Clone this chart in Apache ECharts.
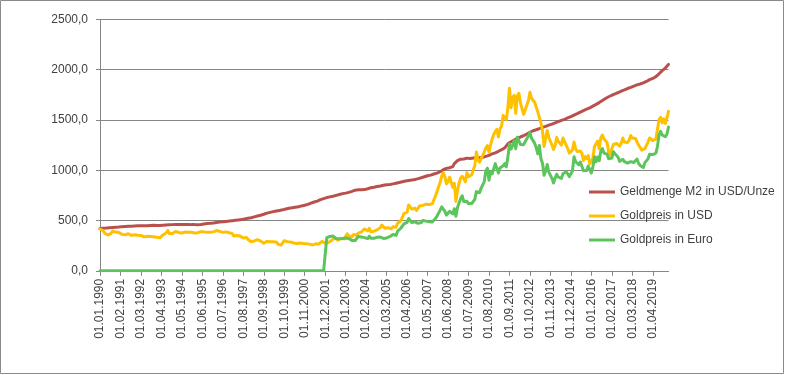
<!DOCTYPE html>
<html><head><meta charset="utf-8">
<script src="https://cdn.jsdelivr.net/npm/echarts@6/dist/echarts.min.js"></script>
<style>html,body{margin:0;padding:0;background:#fff}#c{width:785px;height:375px}</style>
</head><body><div id="c"></div><script>
// Category range: monthly, 01.01.1990 .. 01.02.2020
const startYear = 1990, endYear = 2020, endMonth = 2;
const categories = [];
for (let y = startYear; y <= endYear; y++) {
  for (let m = 1; m <= 12; m++) {
    if (y === endYear && m > endMonth) break;
    categories.push('01.' + (m < 10 ? '0' + m : m) + '.' + y);
  }
}

const seriesNames = ['Geldmenge M2 in USD/Unze', 'Goldpreis in USD', 'Goldpreis in Euro'];
const yTicks = [0, 500, 1000, 1500, 2000, 2500];

// Geldmenge M2 in USD/Unze
const m2 = [
  420,422,424,425,425,427,428,430,431,432,433,434, // 1990
  435,437,439,440,441,442,443,443,443,444,445,446, // 1991
  447,448,449,449,449,448,449,450,451,452,452,452, // 1992
  451,450,450,451,453,454,455,456,457,458,459,460, // 1993
  460,460,461,462,461,461,461,460,460,460,459,459, // 1994
  459,458,458,459,461,464,466,468,470,471,472,474, // 1995
  476,478,481,482,484,486,487,489,491,492,494,496, // 1996
  498,500,502,504,506,508,510,513,516,519,522,525, // 1997
  528,532,536,540,544,548,552,556,562,568,573,577, // 1998
  581,585,588,591,594,597,600,603,606,610,614,618, // 1999
  621,623,626,630,632,634,637,641,645,648,651,655, // 2000
  660,666,673,680,684,689,693,698,708,713,718,724, // 2001
  728,732,735,737,741,745,750,755,759,764,767,770, // 2002
  772,776,780,784,789,795,801,806,806,805,805,806, // 2003
  807,811,816,821,826,830,831,833,837,840,843,847, // 2004
  850,852,855,857,858,861,864,867,871,875,878,881, // 2005
  885,889,892,895,897,899,902,905,908,912,916,921, // 2006
  925,930,935,940,945,948,951,956,962,967,971,976, // 2007
  985,995,1005,1013,1018,1020,1024,1025,1035,1065,1080,1095, // 2008
  1105,1110,1115,1112,1118,1120,1118,1117,1120,1122,1125,1125, // 2009
  1124,1125,1128,1128,1132,1138,1142,1148,1155,1162,1168,1173, // 2010
  1180,1188,1195,1204,1212,1222,1238,1262,1275,1283,1292,1300, // 2011
  1310,1318,1324,1330,1336,1343,1352,1360,1368,1376,1385,1392, // 2012
  1396,1402,1408,1414,1420,1425,1430,1435,1441,1448,1453,1458, // 2013
  1465,1471,1478,1483,1490,1495,1500,1506,1512,1519,1525,1532, // 2014
  1540,1548,1555,1562,1570,1578,1586,1593,1600,1607,1614,1620, // 2015
  1628,1637,1645,1654,1664,1672,1682,1692,1702,1712,1720,1730, // 2016
  1738,1745,1751,1758,1765,1772,1778,1785,1792,1798,1805,1812, // 2017
  1818,1823,1830,1836,1843,1848,1852,1857,1862,1868,1875,1882, // 2018
  1890,1900,1905,1912,1920,1930,1942,1958,1972,1990,2003,2015, // 2019
  2030,2052 // 2020
];

// Goldpreis in USD
const goldUsd = [
  415,412,398,374,369,355,352,372,395,404,385,400, // 1990
  380,383,362,356,358,360,368,364,352,355,359,365, // 1991
  353,355,352,341,337,337,343,355,341,349,339,334, // 1992
  333,330,328,320,356,375,377,400,371,354,370,371, // 1993
  390,378,381,390,376,386,385,384,384,395,383,383, // 1994
  376,375,378,391,389,384,387,383,382,384,383,387, // 1995
  387,405,400,396,392,390,382,385,387,379,379,371, // 1996
  369,345,363,351,340,345,334,326,323,331,311,296, // 1997
  289,302,297,301,309,294,296,288,274,293,292,293, // 1998
  288,287,288,280,287,266,262,255,255,299,300,290, // 1999
  288,286,293,276,278,272,288,277,277,272,264,270, // 2000
  273,265,266,257,263,268,270,266,273,292,279,274, // 2001
  279,282,297,301,307,327,318,305,312,324,318,317, // 2002
  343,368,347,335,336,361,346,354,375,388,386,398, // 2003
  416,400,396,423,388,393,394,391,407,415,429,454, // 2004
  438,422,435,428,437,417,437,429,433,473,470,495, // 2005
  513,568,556,582,655,643,613,632,623,599,604,646, // 2006
  632,650,664,662,677,659,650,665,672,743,789,783, // 2007
  880,940,975,934,865,885,930,918,830,870,690,800, // 2008
  870,920,940,915,885,975,935,940,955,1000,1045,1180, // 2009
  1100,1080,1115,1115,1180,1220,1245,1180,1250,1310,1355,1385, // 2010
  1405,1330,1410,1440,1545,1535,1500,1625,1815,1620,1720,1745, // 2011
  1565,1740,1765,1670,1660,1555,1600,1615,1690,1775,1715,1720, // 2012
  1675,1665,1580,1595,1470,1390,1235,1320,1395,1325,1325,1250, // 2013
  1205,1245,1325,1285,1290,1250,1320,1285,1290,1215,1170,1180, // 2014
  1200,1280,1215,1185,1180,1190,1170,1095,1135,1115,1145,1065, // 2015
  1060,1120,1235,1235,1290,1215,1320,1350,1310,1320,1275,1180, // 2016
  1150,1210,1255,1245,1265,1265,1240,1270,1320,1280,1275,1275, // 2017
  1300,1345,1320,1325,1315,1300,1250,1225,1200,1190,1215,1220, // 2018
  1280,1320,1315,1295,1285,1310,1410,1500,1525,1470,1510,1465, // 2019
  1520,1585 // 2020
];

// Goldpreis in Euro (0 before the euro)
const goldEur = [
  0,0,0,0,0,0,0,0,0,0,0,0, // 1990
  0,0,0,0,0,0,0,0,0,0,0,0, // 1991
  0,0,0,0,0,0,0,0,0,0,0,0, // 1992
  0,0,0,0,0,0,0,0,0,0,0,0, // 1993
  0,0,0,0,0,0,0,0,0,0,0,0, // 1994
  0,0,0,0,0,0,0,0,0,0,0,0, // 1995
  0,0,0,0,0,0,0,0,0,0,0,0, // 1996
  0,0,0,0,0,0,0,0,0,0,0,0, // 1997
  0,0,0,0,0,0,0,0,0,0,0,0, // 1998
  0,0,0,0,0,0,0,0,0,0,0,0, // 1999
  0,0,0,0,0,0,0,0,0,0,0,0, // 2000
  0,0,0,0,0,0,0,0,0,0,0,0, // 2001
  330,328,341,342,345,352,321,311,318,327,321,320, // 2002
  327,341,321,307,300,306,301,313,341,332,336,332, // 2003
  330,320,319,344,323,322,323,326,334,335,335,341, // 2004
  322,325,327,329,339,339,361,355,352,394,392,423, // 2005
  435,466,467,481,520,502,479,494,487,472,472,489, // 2006
  479,500,503,494,498,488,481,485,494,520,544,533, // 2007
  603,635,641,591,554,571,592,588,565,617,543,630, // 2008
  621,719,746,688,670,691,668,662,668,685,711,787, // 2009
  769,777,820,826,887,992,1020,901,984,963,975,1065, // 2010
  1049,971,1022,1014,1044,1066,1034,1128,1260,1209,1246,1293, // 2011
  1213,1328,1327,1256,1258,1254,1260,1313,1341,1376,1319,1323, // 2012
  1269,1224,1162,1246,1114,1069,950,992,1057,981,974,919, // 2013
  873,922,960,931,935,919,964,959,985,964,936,944, // 2014
  992,1133,1085,1097,1054,1082,1073,995,1013,996,1041,1005, // 2015
  972,1037,1133,1083,1132,1095,1189,1216,1170,1179,1159,1113, // 2016
  1095,1120,1184,1164,1161,1129,1088,1076,1109,1085,1090,1071, // 2017
  1083,1085,1082,1077,1087,1111,1068,1047,1034,1026,1075,1080, // 2018
  1113,1158,1154,1156,1147,1170,1237,1351,1386,1350,1348,1332, // 2019
  1357,1429 // 2020
];

const colors = ['#B9504C', '#FFC000', '#5BC45B'];
const FONT = '"Liberation Sans", Arial, sans-serif';
const axisGray = '#868686';
const textColor = '#404040';

const chart = echarts.init(document.getElementById('c'), null, {renderer: 'canvas'});
const lineSeries = [m2, goldUsd, goldEur].map((d, i) => ({
  name: seriesNames[i],
  type: 'line',
  data: d,
  showSymbol: false,
  symbol: 'none',
  animation: false,
  lineStyle: {width: 3, color: colors[i], join: 'round', cap: 'round'},
  itemStyle: {color: colors[i]},
  z: 2 + i
}));

chart.setOption({
  animation: false,
  textStyle: {fontFamily: FONT},
  grid: {left: 100, right: 116.5, top: 19.3, bottom: 104.2, containLabel: false},
  graphic: [{
    type: 'rect', silent: true, z: -1,
    shape: {x: 0.5, y: 0.5, width: 783, height: 373},
    style: {fill: 'none', stroke: '#8a8a8a', lineWidth: 1}
  }],
  legend: {
    orient: 'vertical',
    left: 589, top: 186,
    padding: 0,
    itemGap: 12,
    itemWidth: 26, itemHeight: 3,
    icon: 'rect',
    textStyle: {fontFamily: FONT, fontSize: 12, color: textColor},
    data: seriesNames
  },
  xAxis: {
    type: 'category',
    data: categories,
    boundaryGap: false,
    axisLine: {lineStyle: {color: axisGray, width: 1}},
    axisTick: {show: true, interval: 12, length: 5, lineStyle: {color: axisGray}},
    axisLabel: {interval: 12, rotate: 90, margin: 8, fontSize: 12, color: textColor, fontFamily: FONT},
    splitLine: {show: false}
  },
  yAxis: {
    type: 'value',
    min: yTicks[0], max: yTicks[yTicks.length - 1], interval: 500,
    axisLine: {show: true, lineStyle: {color: axisGray, width: 1}},
    axisTick: {show: true, length: 4, lineStyle: {color: axisGray}},
    axisLabel: {margin: 12, fontSize: 12, color: textColor, fontFamily: FONT,
      formatter: v => v.toFixed(1).replace('.', ',')},
    splitLine: {show: true, lineStyle: {color: axisGray, width: 1}}
  },
  series: lineSeries
});
</script></body></html>
